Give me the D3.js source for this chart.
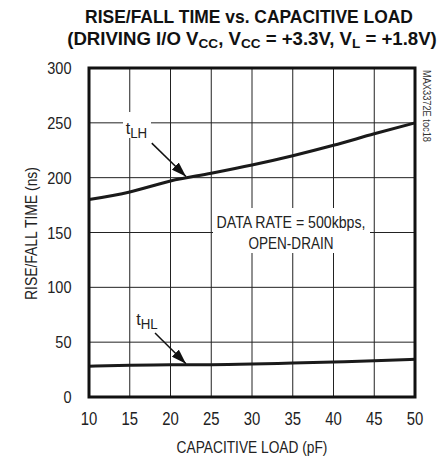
<!DOCTYPE html>
<html>
<head>
<meta charset="utf-8">
<script src="https://cdn.jsdelivr.net/npm/d3@7"></script>
<style>
  body { margin: 0; background: #fff; }
  text { font-family: "Liberation Sans", Arial, sans-serif; }
</style>
</head>
<body>
<div id="chart"></div>
<script>
// capacitive load (pF) sample points
const loadPF = [10, 15, 20, 25, 30, 35, 40, 45, 50];
// rise time tLH (ns)
const tLH = [180, 187, 197, 204, 211.5, 220, 229.5, 240, 250];
// fall time tHL (ns)
const tHL = [28, 29, 29.5, 29.5, 30, 31, 32, 33, 34.5];
const xTicks = [10, 15, 20, 25, 30, 35, 40, 45, 50];
const yTicks = [0, 50, 100, 150, 200, 250, 300];

const svgWidth = 446, svgHeight = 459;
const margin = { top: 68, right: 31, bottom: 62, left: 89 };
const width = svgWidth - margin.left - margin.right;
const height = svgHeight - margin.top - margin.bottom;

const x = d3.scaleLinear().domain([10, 50]).range([0, width]);
const y = d3.scaleLinear().domain([0, 300]).range([height, 0]);

const svg = d3.select("#chart").append("svg")
    .attr("width", svgWidth)
    .attr("height", svgHeight);

// narrow-font look: squeeze text horizontally around its anchor point
function narrow(parent, px, py, sx, rot) {
    return parent.append("text")
        .attr("transform", `translate(${px},${py})${rot ? ` rotate(${rot})` : ""} scale(${sx},1)`);
}
// squeeze a text to a given width
function fitTo(sel, w) {
    const len = sel.node().getComputedTextLength();
    const tr = sel.attr("transform").replace(/scale\([^)]*\)/, `scale(${w / len},1)`);
    sel.attr("transform", tr);
}

// title
const t1 = narrow(svg, 249, 23, 1)
    .attr("text-anchor", "middle").attr("font-weight", "bold")
    .attr("font-size", "18.5px").attr("fill", "#111")
    .text("RISE/FALL TIME vs. CAPACITIVE LOAD");
fitTo(t1, 328);
const t2 = narrow(svg, 252, 44.5, 1)
    .attr("text-anchor", "middle").attr("font-weight", "bold")
    .attr("font-size", "18.5px").attr("fill", "#111");
t2.append("tspan").text("(DRIVING I/O V");
t2.append("tspan").attr("font-size", "13.5px").attr("dy", 3).text("CC");
t2.append("tspan").attr("dy", -3).text(", V");
t2.append("tspan").attr("font-size", "13.5px").attr("dy", 3).text("CC");
t2.append("tspan").attr("dy", -3).text(" = +3.3V, V");
t2.append("tspan").attr("font-size", "13.5px").attr("dy", 3).text("L");
t2.append("tspan").attr("dy", -3).text(" = +1.8V)");
fitTo(t2, 370);

const g = svg.append("g").attr("transform", `translate(${margin.left},${margin.top})`);

// grid
g.selectAll(".vgrid").data(xTicks.slice(1, -1)).join("line")
    .attr("x1", d => x(d)).attr("x2", d => x(d))
    .attr("y1", 0).attr("y2", height)
    .attr("stroke", "#222").attr("stroke-width", 1);
g.selectAll(".hgrid").data(yTicks.slice(1, -1)).join("line")
    .attr("x1", 0).attr("x2", width)
    .attr("y1", d => y(d)).attr("y2", d => y(d))
    .attr("stroke", "#222").attr("stroke-width", 1);

// white boxes behind annotations (break the grid)
g.append("rect").attr("x", 123 - margin.left).attr("y", 112 - margin.top)
    .attr("width", 28).attr("height", 26).attr("fill", "#fff");
g.append("rect").attr("x", 213 - margin.left).attr("y", 208 - margin.top)
    .attr("width", 157).attr("height", 45).attr("fill", "#fff");

// tick labels
yTicks.forEach(d => {
    narrow(g, -17.5, y(d) + 6, 0.88)
        .attr("text-anchor", "end").attr("font-size", "16.5px").attr("fill", "#222")
        .text(d);
});
xTicks.forEach(d => {
    narrow(g, x(d), height + 28, 0.85)
        .attr("text-anchor", "middle").attr("font-size", "17.5px").attr("fill", "#222")
        .text(d);
});

// axis titles
const yt = narrow(g, -52, height / 2 + 1, 1, -90)
    .attr("text-anchor", "middle").attr("font-size", "16px").attr("fill", "#222")
    .text("RISE/FALL TIME (ns)");
fitTo(yt, 133);
const xt = narrow(g, 252 - margin.left, 453 - margin.top, 1)
    .attr("text-anchor", "middle").attr("font-size", "16.5px").attr("fill", "#222")
    .text("CAPACITIVE LOAD (pF)");
fitTo(xt, 151);

// curves
const line = d3.line().curve(d3.curveMonotoneX).x((d, i) => x(loadPF[i])).y(d => y(d));
[tLH, tHL].forEach(series => {
    g.append("path").datum(series)
        .attr("fill", "none").attr("stroke", "#1a1a1a").attr("stroke-width", 3)
        .attr("d", line);
});

// frame
g.append("rect").attr("width", width).attr("height", height)
    .attr("fill", "none").attr("stroke", "#111").attr("stroke-width", 3);

// annotations
svg.append("defs").append("marker")
    .attr("id", "arrow").attr("viewBox", "0 0 15 10")
    .attr("refX", 15).attr("refY", 5)
    .attr("markerWidth", 15).attr("markerHeight", 10)
    .attr("markerUnits", "userSpaceOnUse")
    .attr("orient", "auto")
    .append("path").attr("d", "M0,0 L15,5 L0,10 Z").attr("fill", "#111");

function subLabel(vx, vy, main, sub) {
    const t = narrow(g, x(vx), y(vy), 0.95)
        .attr("font-size", "17px").attr("fill", "#222");
    t.append("tspan").text(main);
    t.append("tspan").attr("font-size", "14px").attr("dy", 4).text(sub);
}
subLabel(14.5, 239.5, "t", "LH");
subLabel(15.8, 66, "t", "HL");

function arrow(fromX, fromY, toX, toY) {
    g.append("line")
        .attr("x1", x(fromX)).attr("y1", y(fromY))
        .attr("x2", x(toX)).attr("y2", y(toY))
        .attr("stroke", "#111").attr("stroke-width", 1.5)
        .attr("marker-end", "url(#arrow)");
}
arrow(17.7, 231.5, 21.9, 201);
arrow(18.1, 58.3, 21.9, 30.3);

const n1 = narrow(g, 291 - margin.left, 228 - margin.top, 1)
    .attr("text-anchor", "middle").attr("font-size", "17px").attr("fill", "#222")
    .text("DATA RATE = 500kbps,");
fitTo(n1, 149);
const n2 = narrow(g, 291 - margin.left, 249 - margin.top, 1)
    .attr("text-anchor", "middle").attr("font-size", "17px").attr("fill", "#222")
    .text("OPEN-DRAIN");
fitTo(n2, 85);

// part id at right margin
const pid = narrow(svg, margin.left + width + 8, margin.top + 2, 1, 90)
    .attr("font-size", "10px").attr("fill", "#333")
    .text("MAX3372E toc18");
fitTo(pid, 72);
</script>
</body>
</html>
